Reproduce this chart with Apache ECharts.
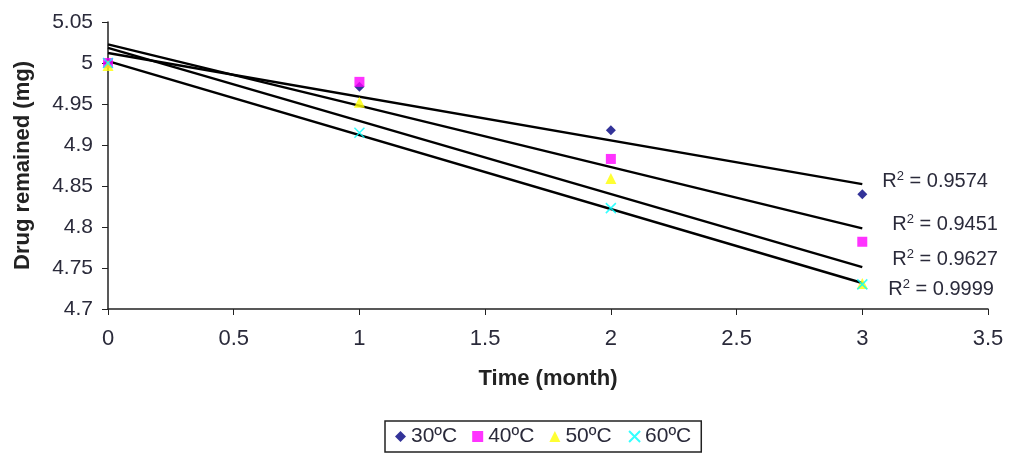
<!DOCTYPE html>
<html><head><meta charset="utf-8">
<script src="https://cdn.jsdelivr.net/npm/echarts@6/dist/echarts.min.js"></script>
<style>html,body{margin:0;padding:0;background:#fff}#c{width:1014px;height:459px}</style>
</head><body><div id="c"></div>
<script>
const months = [0, 1, 2, 3];
const seriesNames = ['30ºC', '40ºC', '50ºC', '60ºC'];
const d30 = [5.000, 4.971, 4.918, 4.840];
const d40 = [5.000, 4.977, 4.883, 4.782];
const d50 = [4.997, 4.952, 4.859, 4.731];
const d60 = [5.000, 4.915, 4.823, 4.730];
const r2Labels = ['0.9574', '0.9451', '0.9627', '0.9999'];
const xTicks = [0, 0.5, 1, 1.5, 2, 2.5, 3, 3.5];
const yTicks = [4.7, 4.75, 4.8, 4.85, 4.9, 4.95, 5, 5.05];

const allData = [d30, d40, d50, d60];
const colors = ['#000080', '#FF00FF', '#FFFF00', '#00FFFF'];
const symbols = ['diamond', 'rect', 'triangle', 'path://M0,0L10,10M10,0L0,10'];
const symSizes = [10, 10, 11, 10];
const labelOffsets = [[12, -3], [22, -4], [22, -8], [18, 6]];

function fit(ys) {
  const n = months.length;
  const mx = months.reduce((a, b) => a + b, 0) / n;
  const my = ys.reduce((a, b) => a + b, 0) / n;
  let sxy = 0, sxx = 0;
  for (let i = 0; i < n; i++) { sxy += (months[i] - mx) * (ys[i] - my); sxx += (months[i] - mx) ** 2; }
  const b = sxy / sxx, a = my - b * mx;
  return [[months[0], a + b * months[0]], [months[n - 1], a + b * months[n - 1]]];
}

const txt = '#2a2a3a';
const series = [];
allData.forEach((ys, i) => {
  series.push({
    type: 'line', name: seriesNames[i] + ' fit', data: fit(ys), symbol: 'none', silent: true,
    lineStyle: { color: '#000', width: 2.5 }, z: 2,
    endLabel: {
      show: true, offset: labelOffsets[i], color: txt, fontFamily: 'Liberation Sans', fontSize: 20,
      formatter: () => '{b|R}{s|2}{b| = ' + r2Labels[i] + '}',
      rich: { b: { fontSize: 20, fontFamily: 'Liberation Sans', color: txt },
              s: { fontSize: 13, fontFamily: 'Liberation Sans', color: txt, verticalAlign: 'top', padding: [0, 0, 9, 0] } }
    }
  });
});
allData.forEach((ys, i) => {
  const isX = i === 3;
  series.push({
    type: 'scatter', name: seriesNames[i], data: months.map((m, k) => [m, ys[k]]),
    symbol: symbols[i], symbolSize: symSizes[i], z: 3,
    itemStyle: isX ? { color: 'none', borderColor: colors[i], borderWidth: 1.5 } : { color: colors[i] }
  });
});

const chart = echarts.init(document.getElementById('c'));
chart.setOption({
  animation: false,
  grid: { left: 108, right: 26, top: 22, bottom: 150, containLabel: false },
  xAxis: {
    type: 'value', min: 0, max: 3.5, interval: 0.5,
    name: 'Time (month)', nameLocation: 'middle', nameGap: 59,
    nameTextStyle: { fontFamily: 'Liberation Sans', fontWeight: 'bold', fontSize: 22, color: '#222' },
    axisLine: { lineStyle: { color: '#222', width: 1.5 } },
    axisTick: { show: true, inside: false, length: 6, lineStyle: { color: '#222' } },
    axisLabel: { margin: 19, fontFamily: 'Liberation Sans', fontSize: 22, color: txt,
      formatter: v => { const t = xTicks.find(x => Math.abs(x - v) < 1e-6); return t === undefined ? '' : String(t); } },
    splitLine: { show: false }
  },
  yAxis: {
    type: 'value', min: 4.7, max: 5.05, interval: 0.05,
    name: 'Drug remained (mg)', nameLocation: 'middle', nameGap: 74,
    nameTextStyle: { fontFamily: 'Liberation Sans', fontWeight: 'bold', fontSize: 22, color: '#222' },
    axisLine: { show: true, lineStyle: { color: '#222', width: 1.5 } },
    axisTick: { show: true, length: 6, lineStyle: { color: '#222' } },
    axisLabel: { margin: 15, fontFamily: 'Liberation Sans', fontSize: 21, color: txt,
      formatter: v => { const t = yTicks.find(y => Math.abs(y - v) < 1e-6); return t === undefined ? '' : String(t); } },
    splitLine: { show: false }
  },
  legend: {
    data: seriesNames.map((n, i) => ({ name: n, icon: i === 3 ? 'path://M0,0L10,10M10,0L0,10' : undefined })),
    bottom: 7, left: 385, orient: 'horizontal',
    borderColor: '#222', borderWidth: 1.5, padding: [5, 10, 5, 10], itemGap: 15, itemWidth: 11, itemHeight: 11,
    textStyle: { fontFamily: 'Liberation Sans', fontSize: 21, color: txt }
  },
  series
});
</script></body></html>
